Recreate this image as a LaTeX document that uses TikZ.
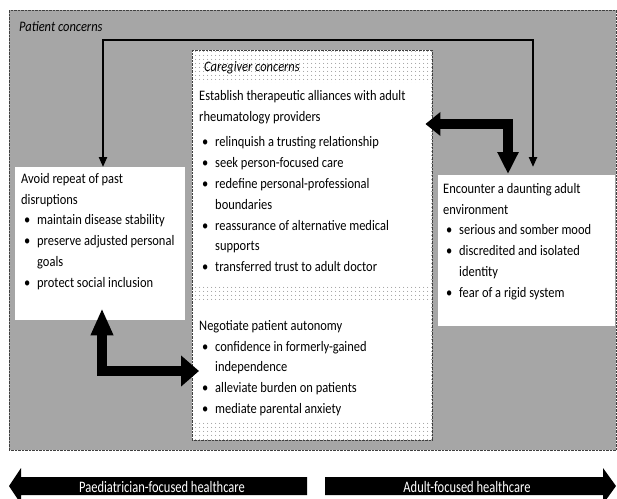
\documentclass[tikz,border=0pt]{standalone}
\usepackage{fontspec}
\setmainfont{Carlito}[FakeStretch=0.86]
\newfontfamily\barfont{Carlito}[FakeStretch=0.78]
\usetikzlibrary{arrows.meta,patterns.meta}
\definecolor{bggrey}{RGB}{166,166,166}
\newcommand{\bu}{\hspace*{3pt}\makebox[13pt][l]{\textbullet}}
\newcommand{\ct}{\hspace*{16pt}}
\newcommand{\fs}{\rule{0pt}{12pt}}
\begin{document}
\begin{tikzpicture}[x=1pt,y=-1pt,
  txt/.style={anchor=north west, align=left, inner sep=0pt, font=\fontsize{14.5}{20.8}\selectfont},
  lbl/.style={anchor=base west, inner sep=0pt, font=\fontsize{14.5}{16}\selectfont\itshape},
  wbox/.style={fill=white, draw=none, inner sep=0pt, anchor=north west},
  thinarr/.style={line width=2.2pt, {Triangle[length=10pt,width=8pt]}-{Triangle[length=10pt,width=8pt]}},
  thickarr/.style={line width=9.5pt, line join=miter},
  bararr/.style={fill=black},
  bartxt/.style={text=white, inner sep=0pt, font=\barfont\fontsize{16}{18}\selectfont}
]
\useasboundingbox (0,0) rectangle (617,498);
\clip (0,0) rectangle (617,498);
\fill[white] (0,0) rectangle (617,498);

% patient concerns frame
\node[wbox, fill=bggrey, draw=black!75, densely dotted, minimum width=607pt, minimum height=440pt] (pat) at (9,10) {};
\node[lbl] (patl) at (19,31) {Patient concerns};

% caregiver frame
\node[wbox, minimum width=240pt, minimum height=390pt] (care) at (192,50) {};
\fill[pattern={Dots[radius=0.5pt,distance=4pt]}, pattern color=black!60] (care.north west) rectangle (care.south east);
\draw[densely dotted, draw=black!75] (care.north west) rectangle (care.south east);
\node[lbl] (carel) at (204,71) {Caregiver concerns};
\node[wbox, minimum width=238pt, minimum height=201pt] (ca1) at (193,83) {};
\node[wbox, minimum width=238pt, minimum height=119pt] (ca2) at (193,302) {};

\node[txt] (ca1t) at (199,88) {\fs Establish therapeutic alliances with adult\\
rheumatology providers\\[5pt]
\bu relinquish a trusting relationship\\
\bu seek person-focused care\\
\bu redefine personal-professional\\
\ct boundaries\\
\bu reassurance of alternative medical\\
\ct supports\\
\bu transferred trust to adult doctor};

\node[txt] (ca2t) at (199,318) {\fs Negotiate patient autonomy\\
\bu confidence in formerly-gained\\
\ct independence\\
\bu alleviate burden on patients\\
\bu mediate parental anxiety};

% left box
\node[wbox, minimum width=170pt, minimum height=153pt] (avoid) at (15,167) {};
\node[txt] (avoidt) at (21,171) {\fs Avoid repeat of past\\
disruptions\\
\bu maintain disease stability\\
\bu preserve adjusted personal\\
\ct goals\\
\bu protect social inclusion};

% right box
\node[wbox, minimum width=177pt, minimum height=151pt] (enc) at (438,175) {};
\node[txt] (enct) at (443,181) {\fs Encounter a daunting adult\\
environment\\
\bu serious and somber mood\\
\bu discredited and isolated\\
\ct identity\\
\bu fear of a rigid system};

% thin connector
\coordinate (tl) at (103,40);
\coordinate (tr) at (533,40);
\draw[thinarr] ([xshift=88pt]avoid.north west) -- (tl) -- (tr) -- ([xshift=95pt,yshift=8pt]enc.north west);

% thick connector top right
\coordinate (k1) at (508,124);
\draw[thickarr, {Triangle[length=15pt,width=23pt]}-{Triangle[length=22pt,width=20pt]}]
  ([xshift=-6pt]ca1.east |- k1) -- (k1) -- ([yshift=1pt]k1 |- enc.north);

% thick connector bottom left
\coordinate (k2) at (102,371);
\draw[thickarr, {Triangle[length=27pt,width=21pt]}-{Triangle[length=18pt,width=30pt]}]
  ([yshift=12pt]k2 |- avoid.south) -- (k2) -- ([xshift=7pt]k2 -| care.west);

% bottom bar arrows
\fill[bararr] (9,486) -- (21,468) -- (21,477) -- (307,477) -- (307,495) -- (21,495) -- (21,504) -- cycle;
\node[bartxt] (paed) at (162,486.5) {Paediatrician-focused healthcare};
\fill[bararr] (325,477) -- (603,477) -- (603,468) -- (616,486) -- (603,504) -- (603,495) -- (325,495) -- cycle;
\node[bartxt] (adult) at (467,486.5) {Adult-focused healthcare};
\end{tikzpicture}
\end{document}
